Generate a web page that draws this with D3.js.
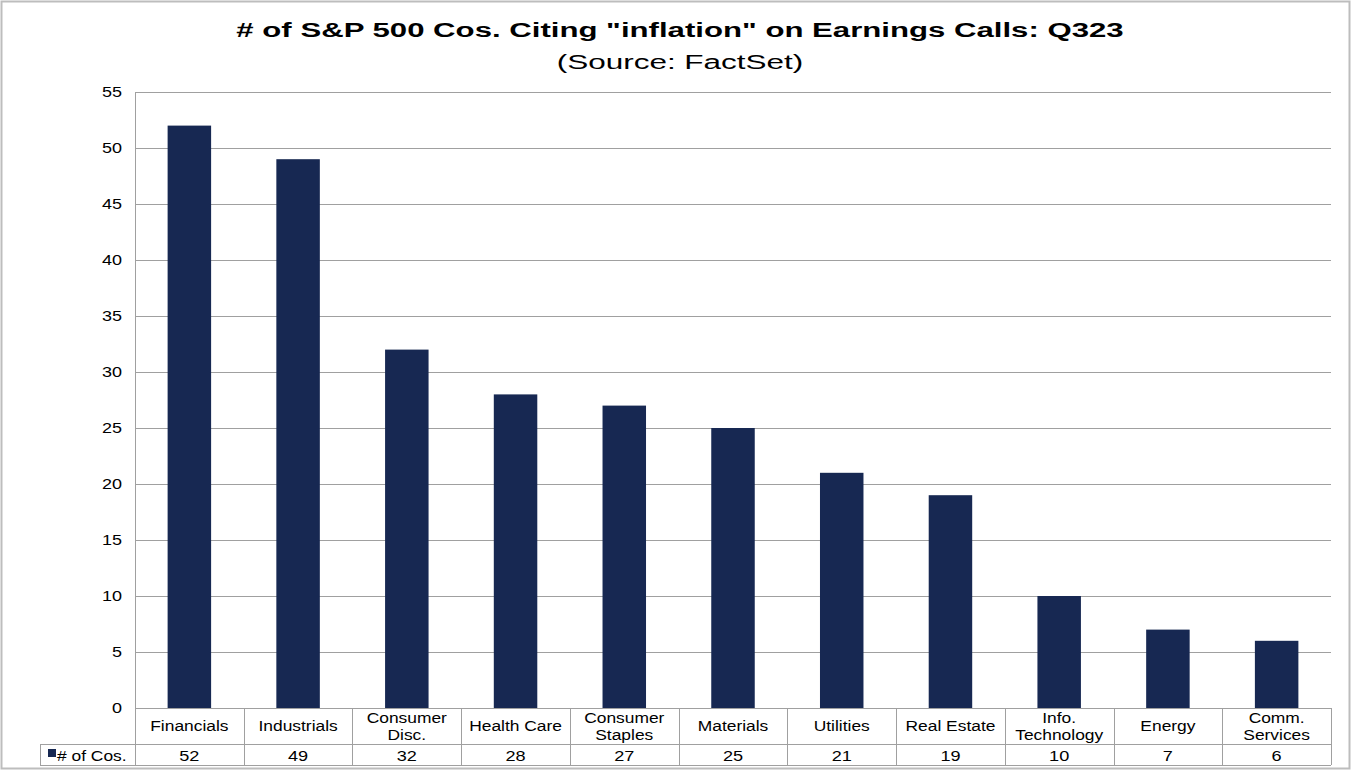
<!DOCTYPE html>
<html><head><meta charset="utf-8">
<script src="https://cdn.jsdelivr.net/npm/d3@7"></script>
<style>body{margin:0;background:#fff}svg{display:block}text{font-family:"Liberation Sans",Arial,sans-serif}</style>
</head><body>
<script>
const categories = [["Financials"],["Industrials"],["Consumer","Disc."],["Health Care"],["Consumer","Staples"],["Materials"],["Utilities"],["Real Estate"],["Info.","Technology"],["Energy"],["Comm.","Services"]];
const values = [52,49,32,28,27,25,21,19,10,7,6];
const yTicks = [0,5,10,15,20,25,30,35,40,45,50,55];
const seriesName = "# of Cos.";
const title = "# of S&P 500 Cos. Citing \"inflation\" on Earnings Calls: Q323";
const subtitle = "(Source: FactSet)";

(function(){
const W=1351,H=770;
const svg=d3.select("body").append("svg").attr("width",W).attr("height",H);
const pL=135,pR=1331,pT=92,pB=708;
const x=d3.scaleBand().domain(d3.range(categories.length)).range([pL,pR]).paddingInner(0.6).paddingOuter(0.3);
const xb=d3.scaleBand().domain(d3.range(categories.length)).range([pL,pR]);
const y=d3.scaleLinear().domain([0,55]).range([pB,pT]);
const SX=1.2;

function stext(g,tx,ty,str,size,anchor,sx,bold){
  const t=g.append("text").attr("transform",`translate(${tx},${ty}) scale(${sx},1)`)
    .attr("text-anchor",anchor).attr("font-size",size).attr("fill","#000").text(str);
  if(bold) t.attr("font-weight","bold");
  return t;
}

svg.append("rect").attr("x",1.5).attr("y",1.5).attr("width",W-3).attr("height",H-3).attr("fill","none").attr("stroke","#bdbdbd").attr("stroke-width",2);

stext(svg,680,37,title,20.5,"middle",1.52,true);
stext(svg,680,69,subtitle,21,"middle",1.5,false);

svg.append("g").selectAll("line").data(yTicks.filter(d=>d>0)).join("line")
 .attr("x1",pL).attr("x2",pR).attr("y1",d=>Math.round(y(d))+0.5).attr("y2",d=>Math.round(y(d))+0.5)
 .attr("stroke","#a0a0a0").attr("stroke-width",1);
svg.append("line").attr("x1",pL+0.5).attr("x2",pL+0.5).attr("y1",pT).attr("y2",pB).attr("stroke","#a0a0a0");

const yAxis=d3.axisLeft(y).tickValues(yTicks).tickSize(0).tickPadding(13);
const ga=svg.append("g").attr("transform",`translate(${pL},0)`).call(yAxis);
ga.select(".domain").remove();
ga.selectAll("text").attr("font-size",15).attr("fill","#000").attr("font-family","Liberation Sans, Arial, sans-serif")
  .attr("x",-13/SX).attr("transform",`scale(${SX},1)`);

svg.append("g").selectAll("rect").data(values).join("rect")
 .attr("x",(d,i)=>x(i)).attr("width",x.bandwidth())
 .attr("y",d=>y(d)).attr("height",d=>pB-y(d)).attr("fill","#172852");

const rowMid=744, rowBot=765, legLeft=40;
const tg=svg.append("g").attr("stroke","#a0a0a0").attr("stroke-width",1);
tg.append("line").attr("x1",pL).attr("x2",pR).attr("y1",pB+0.5).attr("y2",pB+0.5);
tg.append("line").attr("x1",legLeft).attr("x2",pR).attr("y1",rowMid+0.5).attr("y2",rowMid+0.5);
tg.append("line").attr("x1",legLeft).attr("x2",pR).attr("y1",rowBot+0.5).attr("y2",rowBot+0.5);
tg.append("line").attr("x1",legLeft+0.5).attr("x2",legLeft+0.5).attr("y1",rowMid).attr("y2",rowBot);
tg.selectAll("line.v").data(d3.range(categories.length+1)).join("line").attr("class","v")
 .attr("x1",i=>Math.round(i<categories.length?xb(i):pR)+0.5).attr("x2",i=>Math.round(i<categories.length?xb(i):pR)+0.5)
 .attr("y1",pB).attr("y2",rowBot);

const cg=svg.append("g");
categories.forEach((lines,i)=>{
  const cx=xb(i)+xb.bandwidth()/2;
  if(lines.length===1){stext(cg,cx,731,lines[0],14.5,"middle",1.2,false);}
  else{stext(cg,cx,723,lines[0],14.5,"middle",1.2,false);stext(cg,cx,740,lines[1],14.5,"middle",1.2,false);}
  stext(cg,cx,761,values[i],14.5,"middle",1.25,false);
});
svg.append("rect").attr("x",48).attr("y",749).attr("width",8).attr("height",8).attr("fill","#172852");
stext(svg,57,761,seriesName,14.5,"start",1.2,false);
})();
</script>
</body></html>
